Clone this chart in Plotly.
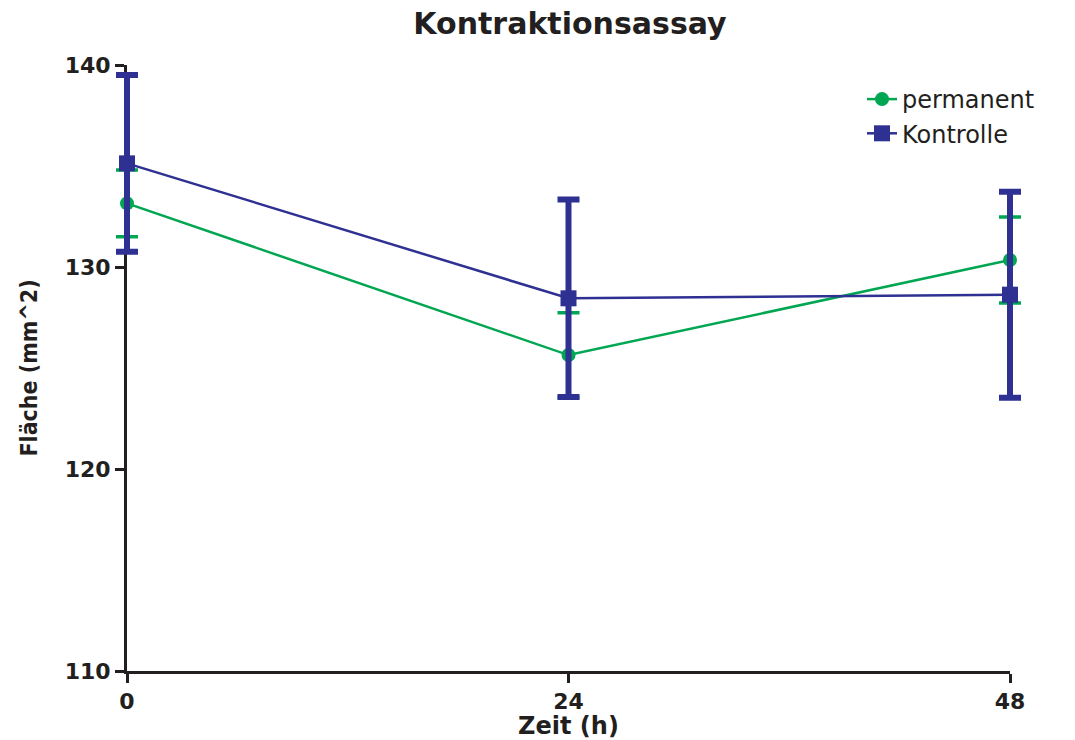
import plotly.graph_objects as go

time_h = [0, 24, 48]
permanent_mean = [133.15, 125.64, 130.35]
permanent_err = [1.65, 2.1, 2.13]
kontrolle_mean = [135.13, 128.45, 128.63]
kontrolle_err = [4.37, 4.89, 5.1]
x_ticks = [0, 24, 48]
y_ticks = [110, 120, 130, 140]

green = "#00A651"
blue = "#2E3192"
ink = "#231F20"
wide = "DejaVu Sans, Verdana, sans-serif"
cond = "DejaVu Sans Condensed, Liberation Sans Narrow, Liberation Sans, sans-serif"

# target positions in screen pixels (page body margin removed below)
W, H = 1075, 740
X0_PX, X48_PX = 127, 1010
Y140_PX, Y110_PX = 65, 671
ML, MR = 100, 40
MT, MB = Y140_PX, H - Y110_PX
area_w = W - ML - MR
area_h = H - MT - MB
px_per_unit = (X48_PX - X0_PX) / 48.0
x2_range = [0 - (X0_PX - ML) / px_per_unit, 48 + (W - MR - X48_PX) / px_per_unit]

fig = go.Figure()
# empty trace so the visible axis pair (x, y) is created
fig.add_trace(go.Scatter(x=[], y=[], xaxis="x", yaxis="y", showlegend=False, hoverinfo="skip"))
fig.add_trace(go.Scatter(
    x=time_h, y=permanent_mean, name="permanent", mode="lines+markers",
    xaxis="x2", yaxis="y",
    line=dict(color=green, width=2.5),
    marker=dict(symbol="circle", size=14, color=green),
    error_y=dict(type="data", array=permanent_err, color=green, thickness=3.5, width=11),
    cliponaxis=False,
))
fig.add_trace(go.Scatter(
    x=time_h, y=kontrolle_mean, name="Kontrolle", mode="lines+markers",
    xaxis="x2", yaxis="y",
    line=dict(color=blue, width=2.5),
    marker=dict(symbol="square", size=16, color=blue),
    error_y=dict(type="data", array=kontrolle_err, color=blue, thickness=6, width=11),
    cliponaxis=False,
))

fig.update_layout(
    width=W, height=H,
    margin=dict(l=ML, r=MR, t=MT, b=MB),
    paper_bgcolor="white", plot_bgcolor="rgba(0,0,0,0)",
    title=dict(text="<b>Kontraktionsassay</b>", x=570 / W, xanchor="center",
               y=1 - 23 / H, yanchor="middle",
               font=dict(family=wide, size=30, color=ink), automargin=False),
    legend=dict(x=(862 - ML) / area_w, y=1 + (MT - 77) / area_h,
                xanchor="left", yanchor="top",
                font=dict(family=wide, size=24, color=ink),
                bgcolor="rgba(0,0,0,0)", tracegroupgap=0),
    showlegend=True,
    xaxis=dict(
        domain=[(X0_PX - ML) / area_w, (X48_PX - ML) / area_w],
        range=[0, 48], tickvals=x_ticks, ticktext=[f"<b>{v}</b>" for v in x_ticks],
        showgrid=False, zeroline=False, showline=True, linecolor=ink, linewidth=3,
        ticks="outside", ticklen=9, tickwidth=3, tickcolor=ink,
        tickfont=dict(family=wide, size=22, color=ink),
        title=dict(text="<b>Zeit (h)</b>", font=dict(family=wide, size=24, color=ink), standoff=2),
        automargin=False, anchor="y", fixedrange=True,
    ),
    xaxis2=dict(domain=[0, 1], range=x2_range, visible=False, anchor="y",
                showgrid=False, zeroline=False, fixedrange=True),
    yaxis=dict(
        range=[110, 140], tickvals=y_ticks, ticktext=[f"<b>{v}</b>" for v in y_ticks],
        showgrid=False, zeroline=False, showline=True, linecolor=ink, linewidth=3,
        ticks="outside", ticklen=9, tickwidth=3, tickcolor=ink,
        tickfont=dict(family=wide, size=22, color=ink),
        title=dict(text="<b>Fläche (mm^2)</b>", font=dict(family=cond, size=23, color=ink), standoff=21),
        automargin=False, anchor="x", fixedrange=True,
    ),
)

fig.write_html("out.html", config={"displayModeBar": False},
               post_script="document.body.style.margin='0px';")
